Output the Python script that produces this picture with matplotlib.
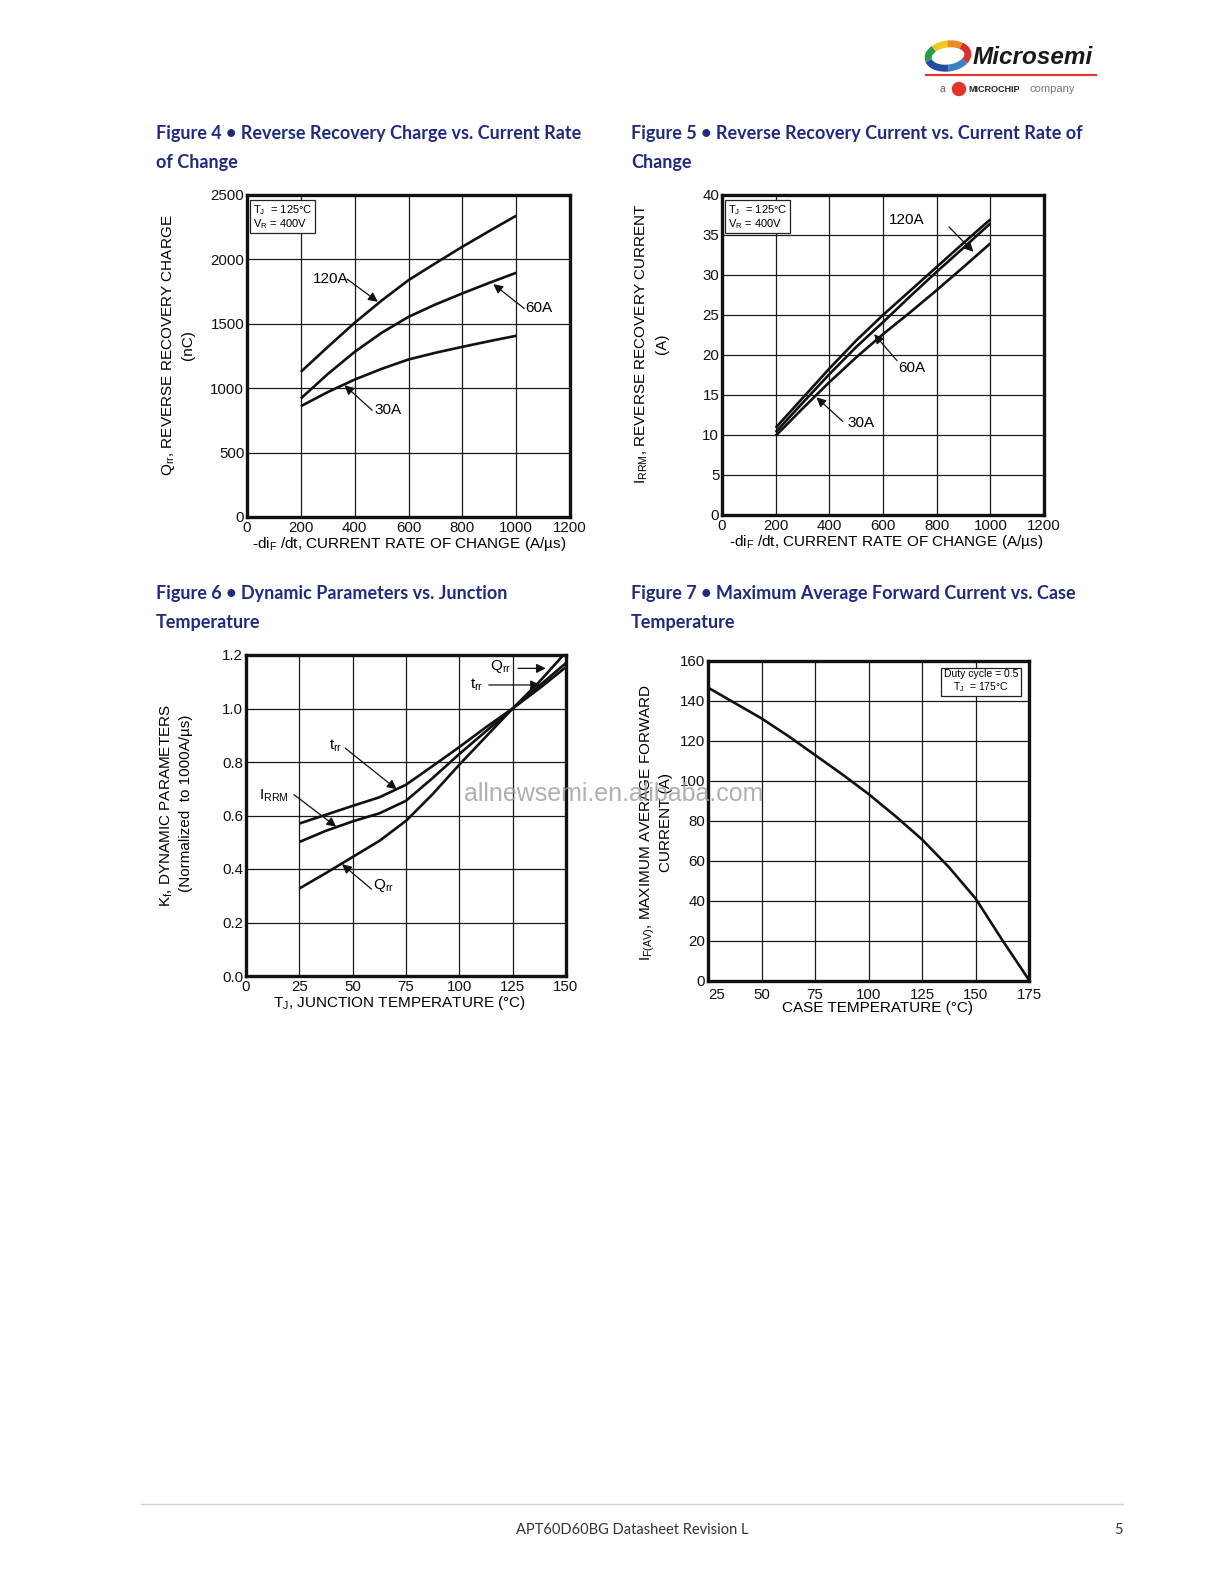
import matplotlib
matplotlib.use('Agg')
import matplotlib.pyplot as plt
from matplotlib.patches import Arc, Circle

# ---------------- data ----------------
# Figure 4: Qrr (nC) vs -diF/dt (A/us)
f4_x = [200, 300, 400, 500, 600, 700, 800, 900, 1000]
f4_120A = [1127, 1320, 1508, 1680, 1839, 1970, 2098, 2220, 2339]
f4_60A = [920, 1110, 1282, 1430, 1554, 1650, 1736, 1818, 1896]
f4_30A = [860, 970, 1067, 1150, 1223, 1275, 1321, 1365, 1407]
f4_xticks = [0, 200, 400, 600, 800, 1000, 1200]
f4_yticks = [0, 500, 1000, 1500, 2000, 2500]

# Figure 5: IRRM (A) vs -diF/dt (A/us)
f5_x = [200, 300, 400, 500, 600, 700, 800, 900, 1000]
f5_120A = [10.9, 14.6, 18.3, 21.8, 25.0, 28.0, 31.0, 34.0, 36.95]
f5_60A = [10.35, 14.0, 17.6, 21.0, 24.1, 27.3, 30.4, 33.4, 36.45]
f5_30A = [9.9, 13.3, 16.6, 19.7, 22.6, 25.3, 28.1, 31.0, 33.95]
f5_xticks = [0, 200, 400, 600, 800, 1000, 1200]
f5_yticks = [0, 5, 10, 15, 20, 25, 30, 35, 40]

# Figure 6: Kf vs TJ
f6_x = [25, 37.5, 50, 62.5, 75, 87.5, 100, 112.5, 125, 137.5, 150]
f6_trr = [0.570, 0.603, 0.636, 0.668, 0.715, 0.785, 0.856, 0.930, 1.0, 1.075, 1.155]
f6_irrm = [0.501, 0.543, 0.578, 0.608, 0.655, 0.740, 0.830, 0.915, 1.0, 1.085, 1.17]
f6_qrr_x = [25, 37.5, 50, 62.5, 75, 87.5, 100, 112.5, 125, 137.5, 148.8]
f6_qrr = [0.327, 0.385, 0.445, 0.505, 0.580, 0.680, 0.790, 0.895, 1.0, 1.10, 1.2]
f6_xticks = [0, 25, 50, 75, 100, 125, 150]
f6_yticks = [0.0, 0.2, 0.4, 0.6, 0.8, 1.0, 1.2]
f6_yticklabels = ['0.0', '0.2', '0.4', '0.6', '0.8', '1.0', '1.2']

# Figure 7: IF(AV) vs case temperature
f7_x = [25, 37.5, 50, 62.5, 75, 87.5, 100, 112.5, 125, 137.5, 150, 162.5, 175]
f7_y = [146.7, 139.0, 131.3, 122.5, 113.0, 103.5, 93.5, 82.5, 70.8, 57.0, 41.3, 20.5, 0.5]
f7_xticks = [25, 50, 75, 100, 125, 150, 175]
f7_yticks = [0, 20, 40, 60, 80, 100, 120, 140, 160]

titles = {
    'f4': ['Figure 4 \u2022 Reverse Recovery Charge vs. Current Rate', 'of Change'],
    'f5': ['Figure 5 \u2022 Reverse Recovery Current vs. Current Rate of', 'Change'],
    'f6': ['Figure 6 \u2022 Dynamic Parameters vs. Junction', 'Temperature'],
    'f7': ['Figure 7 \u2022 Maximum Average Forward Current vs. Case', 'Temperature'],
}

# ---------------- setup ----------------
W, H = 1224, 1584
plt.rcParams['font.family'] = ['Liberation Sans', 'DejaVu Sans']
plt.rcParams['mathtext.fontset'] = 'custom'
plt.rcParams['mathtext.rm'] = 'Liberation Sans'
plt.rcParams['mathtext.it'] = 'Liberation Sans:italic'
plt.rcParams['mathtext.bf'] = 'Liberation Sans:bold'

fig = plt.figure(figsize=(W / 100, H / 100), dpi=100)
fig.patch.set_facecolor('white')


def rect(l, t, r, b):
    return [l / W, 1 - b / H, (r - l) / W, (b - t) / H]


def ftext(x, y, s, **kw):
    return fig.text(x / W, 1 - y / H, s, **kw)


TITLE_C = '#1f2a80'
TICK_FS = 10.8
LAB_FS = 11
ANN_FS = 11
LINE_W = 1.9


def style(ax, xlim, ylim, xticks, yticks, yticklabels=None):
    ax.set_xlim(xlim)
    ax.set_ylim(ylim)
    ax.set_xticks(xticks)
    ax.set_yticks(yticks)
    if yticklabels is not None:
        ax.set_yticklabels(yticklabels)
    ax.grid(True, color='#1a1a1a', lw=0.9)
    ax.set_axisbelow(True)
    ax.tick_params(length=0, labelsize=TICK_FS, colors='#111111')
    ax.tick_params(axis='y', pad=2)
    ax.tick_params(axis='x', pad=3)
    for s in ax.spines.values():
        s.set_linewidth(2.4)
        s.set_color('#111111')


def arrow(ax, tail, head):
    ax.annotate('', xy=head, xytext=tail,
                arrowprops=dict(arrowstyle='-|>', color='#111111', lw=0.9,
                                mutation_scale=14, shrinkA=0, shrinkB=0))


def title(x, y, lines):
    for i, s in enumerate(lines):
        ftext(x, y + 29.5 * i, s, fontsize=13, fontweight='bold', color=TITLE_C,
              family=['Lato', 'DejaVu Sans'], va='baseline', ha='left')


box_kw = dict(boxstyle='square,pad=0.25', fc='white', ec='#222222', lw=0.9)

# ---------------- Figure 4 ----------------
title(156, 138.5, titles['f4'])
ax4 = fig.add_axes(rect(247, 195, 570, 517))
style(ax4, (0, 1200), (0, 2500), f4_xticks, f4_yticks)
for yv in (f4_120A, f4_60A, f4_30A):
    ax4.plot(f4_x, yv, color='#111111', lw=LINE_W, solid_capstyle='butt')
ax4.text(0.018, 0.975, 'T$_\\mathrm{J}$  = 125\u00b0C\nV$_\\mathrm{R}$ = 400V',
         transform=ax4.transAxes, fontsize=8, va='top', ha='left',
         linespacing=1.0, bbox=box_kw)
ax4.text(312, 1847, '120A', fontsize=ANN_FS, va='center', ha='center')
arrow(ax4, (372, 1847), (486, 1671))
ax4.text(1035, 1619, '60A', fontsize=ANN_FS, va='center', ha='left')
arrow(ax4, (1030, 1619), (915, 1808))
ax4.text(472, 829, '30A', fontsize=ANN_FS, va='center', ha='left')
arrow(ax4, (465, 829), (362, 1023))
ftext(168, 345, 'Q$_\\mathrm{rr}$, REVERSE RECOVERY CHARGE', fontsize=LAB_FS,
      rotation=90, va='center', ha='center')
ftext(188, 345, '(nC)', fontsize=LAB_FS, rotation=90, va='center', ha='center')
ftext(409, 544, '-di$_\\mathrm{F}$ /dt, CURRENT RATE OF CHANGE (A/\u00b5s)',
      fontsize=LAB_FS, va='center', ha='center')

# ---------------- Figure 5 ----------------
title(631, 138.5, titles['f5'])
ax5 = fig.add_axes(rect(722, 195, 1044, 515))
style(ax5, (0, 1200), (0, 40), f5_xticks, f5_yticks)
for yv in (f5_120A, f5_60A, f5_30A):
    ax5.plot(f5_x, yv, color='#111111', lw=LINE_W, solid_capstyle='butt')
ax5.text(0.018, 0.975, 'T$_\\mathrm{J}$  = 125\u00b0C\nV$_\\mathrm{R}$ = 400V',
         transform=ax5.transAxes, fontsize=8, va='top', ha='left',
         linespacing=1.0, bbox=box_kw)
ax5.text(687, 36.9, '120A', fontsize=ANN_FS, va='center', ha='center')
arrow(ax5, (846, 36.0), (937, 32.9))
ax5.text(706, 18.4, '60A', fontsize=ANN_FS, va='center', ha='center')
arrow(ax5, (652, 19.3), (567, 22.6))
ax5.text(517, 11.5, '30A', fontsize=ANN_FS, va='center', ha='center')
arrow(ax5, (450, 11.7), (352, 14.7))
ftext(642, 344, 'I$_\\mathrm{RRM}$, REVERSE RECOVERY CURRENT', fontsize=LAB_FS,
      rotation=90, va='center', ha='center')
ftext(662, 344, '(A)', fontsize=LAB_FS, rotation=90, va='center', ha='center')
ftext(886, 542, '-di$_\\mathrm{F}$ /dt, CURRENT RATE OF CHANGE (A/\u00b5s)',
      fontsize=LAB_FS, va='center', ha='center')

# ---------------- Figure 6 ----------------
title(156, 599, titles['f6'])
ax6 = fig.add_axes(rect(246, 655, 566, 976))
style(ax6, (0, 150), (0, 1.2), f6_xticks, f6_yticks, f6_yticklabels)
ax6.plot(f6_x, f6_trr, color='#111111', lw=LINE_W, solid_capstyle='butt')
ax6.plot(f6_x, f6_irrm, color='#111111', lw=LINE_W, solid_capstyle='butt')
ax6.plot(f6_qrr_x, f6_qrr, color='#111111', lw=LINE_W, solid_capstyle='butt')
ax6.text(42.2, 0.859, 't$_\\mathrm{rr}$', fontsize=ANN_FS, va='center', ha='center')
arrow(ax6, (46.5, 0.852), (70.6, 0.698))
ax6.text(13.3, 0.672, 'I$_\\mathrm{RRM}$', fontsize=ANN_FS, va='center', ha='center')
arrow(ax6, (22.5, 0.678), (42.3, 0.558))
ax6.text(64.5, 0.339, 'Q$_\\mathrm{rr}$', fontsize=ANN_FS, va='center', ha='center')
arrow(ax6, (58.8, 0.325), (45.0, 0.418))
ax6.text(119.2, 1.156, 'Q$_\\mathrm{rr}$', fontsize=ANN_FS, va='center', ha='center')
arrow(ax6, (127.5, 1.150), (140.5, 1.150))
ax6.text(108.3, 1.088, 't$_\\mathrm{rr}$', fontsize=ANN_FS, va='center', ha='center')
arrow(ax6, (113.8, 1.088), (137.8, 1.088))
ftext(167, 805, 'K$_\\mathrm{f}$, DYNAMIC PARAMETERS', fontsize=LAB_FS,
      rotation=90, va='center', ha='center')
ftext(186, 803, '(Normalized  to 1000A/\u00b5s)', fontsize=LAB_FS,
      rotation=90, va='center', ha='center')
ftext(399, 1003, 'T$_\\mathrm{J}$, JUNCTION TEMPERATURE (\u00b0C)',
      fontsize=LAB_FS, va='center', ha='center')

# ---------------- Figure 7 ----------------
title(631, 599, titles['f7'])
ax7 = fig.add_axes(rect(708, 661, 1029, 981))
style(ax7, (25, 175), (0, 160), f7_xticks, f7_yticks)
ax7.tick_params(axis='x', pad=5)
ax7.get_xticklabels()[0].set_horizontalalignment('left')
ax7.plot(f7_x, f7_y, color='#111111', lw=LINE_W, solid_capstyle='butt')
ax7.text(0.85, 0.975, 'Duty cycle = 0.5\nT$_\\mathrm{J}$  = 175\u00b0C',
         transform=ax7.transAxes, fontsize=7.5, va='top', ha='center',
         multialignment='center', linespacing=1.1, bbox=box_kw)
ftext(648, 822, 'I$_\\mathrm{F(AV)}$, MAXIMUM AVERAGE FORWARD', fontsize=LAB_FS,
      rotation=90, va='center', ha='center')
ftext(666, 822, 'CURRENT (A)', fontsize=LAB_FS, rotation=90, va='center', ha='center')
ftext(878, 1008, 'CASE TEMPERATURE (\u00b0C)', fontsize=LAB_FS,
      va='center', ha='center')

# ---------------- watermark ----------------
ftext(464, 794, 'allnewsemi.en.alibaba.com', fontsize=18, color='#9c9c9c',
      alpha=0.8, va='center', ha='left', zorder=10)

# ---------------- logo ----------------
lax = fig.add_axes(rect(918, 35, 1102, 100))
lax.set_xlim(918, 1102)
lax.set_ylim(100, 35)
lax.axis('off')
arc_cols = [('#1f4e9c', 95, 175), ('#2f9a4a', 175, 215), ('#f2c81c', 215, 275),
            ('#ee8a22', 275, 330), ('#d9312b', 330, 385), ('#3a7fc4', 25, 95)]
for c, a1, a2 in arc_cols:
    lax.add_patch(Arc((948, 56), 40, 24, angle=-8, theta1=a1, theta2=a2,
                      color=c, lw=5))
lax.text(973, 57, 'Microsemi', fontsize=17.5, fontweight='bold', style='italic',
         color='#1a1a1a', va='center', ha='left')
lax.plot([926, 1096], [74.5, 74.5], color='#e03535', lw=1.6)
lax.text(940, 89, 'a', fontsize=7.5, color='#666666', va='center', ha='left')
lax.add_patch(Circle((959, 89), 6.5, color='#e0352b'))
lax.text(968, 89, 'MICROCHIP', fontsize=6.5, fontweight='bold', color='#222222',
         va='center', ha='left')
lax.text(1030, 89, 'company', fontsize=8, color='#777777', va='center', ha='left')

# ---------------- footer ----------------
fig.add_artist(plt.Line2D([141 / W, 1123 / W], [1 - 1504 / H, 1 - 1504 / H],
                          color='#d0d3e3', lw=1.0))
ftext(632, 1530, 'APT60D60BG Datasheet Revision L', fontsize=10.5,
      family=['Lato', 'DejaVu Sans'], color='#333333', va='center', ha='center')
ftext(1118, 1530, '5', fontsize=10.5, family=['Lato', 'DejaVu Sans'],
      color='#333333', va='center', ha='center')

fig.savefig('out.png', dpi=100, facecolor='white')
